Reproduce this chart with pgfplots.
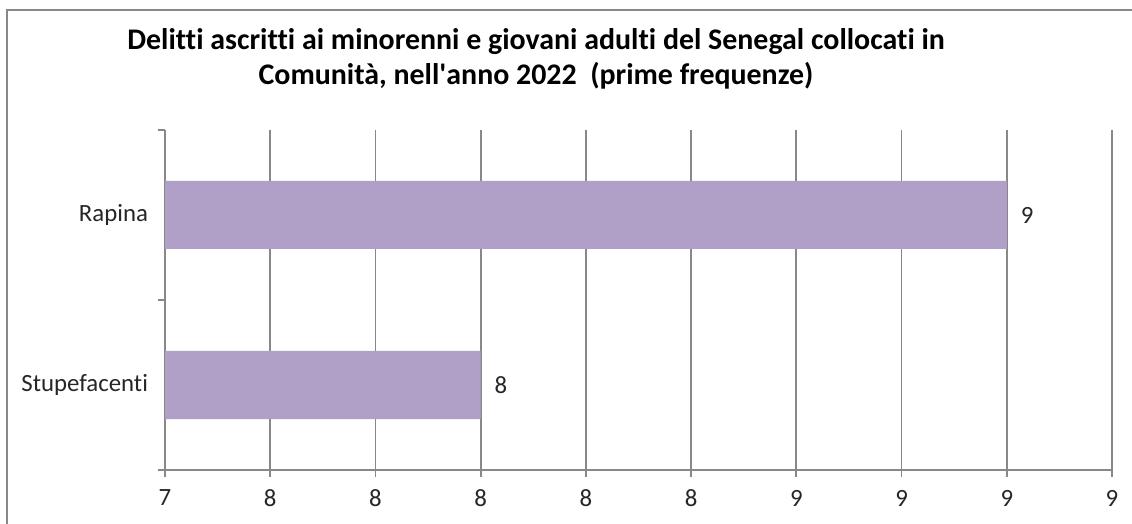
\documentclass[border=0pt]{standalone}
\usepackage{fontspec}
\setmainfont{Carlito}[Ligatures={TeX,NoCommon}]
\usepackage{pgfplots}
\pgfplotsset{compat=1.18}
\definecolor{barlilla}{HTML}{B0A0C8}
\definecolor{griglia}{HTML}{888888}
\definecolor{testo}{HTML}{262626}
\begin{document}
\begin{tikzpicture}
\useasboundingbox (0,0) rectangle (566bp,262bp);
% cornice del grafico
\draw[griglia, line width=1bp] (3.5bp,-20bp) -- (3.5bp,257bp) -- (600bp,257bp);
\node[align=center, font=\fontsize{14.95bp}{17.5bp}\selectfont\bfseries, text=black]
  at (268bp,232.5bp) {Delitti ascritti ai minorenni e giovani adulti del Senegal collocati in\\
  Comunità, nell\textquotesingle anno 2022~ (prime frequenze)};
\begin{axis}[
    at={(82.5bp,27bp)}, anchor=south west,
    scale only axis,
    width=473.5bp, height=170bp,
    xbar, bar width=34bp,
    xmin=7.4, xmax=9.2,
    ymin=0, ymax=2,
    xtick={7.4,7.6,7.8,8,8.2,8.4,8.6,8.8,9,9.2},
    xticklabel={\pgfmathprintnumber[fixed,precision=0]{\tick}},
    /pgf/number format/assume math mode=true,
    ytick={0,1,2},
    yticklabels={Stupefacenti,Rapina},
    y tick label as interval,
    axis x line=bottom, axis y line=left,
    axis line style={griglia, line width=0.9bp, -},
    tick align=outside,
    major tick length=3.5bp,
    tick style={griglia, line width=0.9bp},
    xmajorgrids,
    grid style={griglia, line width=0.9bp},
    tick label style={font=\fontsize{12.4bp}{14bp}\selectfont, text=testo},
    xticklabel style={yshift=-3bp},
    yticklabel style={xshift=-1.5bp},
    nodes near coords={\pgfmathprintnumber[fixed,precision=0]{\pgfplotspointmeta}},
    nodes near coords style={font=\fontsize{12.4bp}{14bp}\selectfont, text=testo, anchor=west, xshift=3.5bp},
    point meta=explicit,
]
\addplot[fill=barlilla, draw=none] coordinates {(8,0.5) [8] (9,1.5) [9]};
\end{axis}
\end{tikzpicture}
\end{document}
